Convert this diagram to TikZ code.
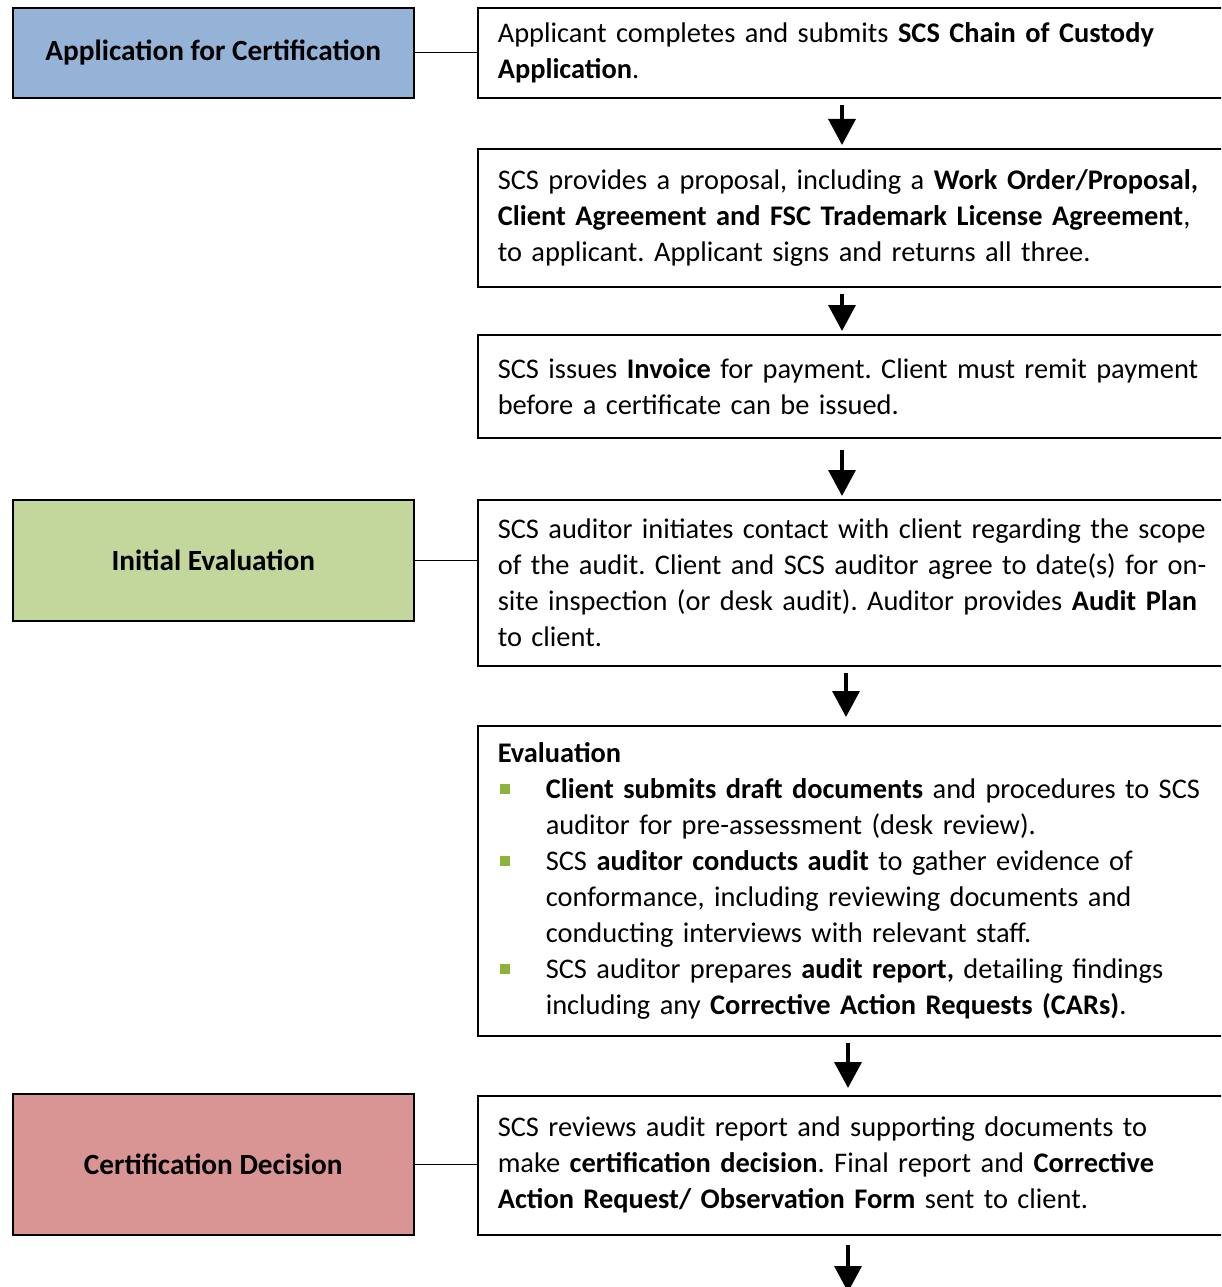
\documentclass[tikz,border=0pt]{standalone}
\usepackage{fontspec}
\setmainfont{Carlito}
\frenchspacing
\usetikzlibrary{arrows.meta}
\definecolor{appblue}{HTML}{95B3D7}
\definecolor{evalgreen}{HTML}{C3D69B}
\definecolor{decred}{HTML}{D99594}
\definecolor{bulgreen}{HTML}{8DB33A}
\newcommand{\bul}{\makebox[48pt][l]{\hspace{2pt}\textcolor{bulgreen}{\rule[4pt]{10pt}{10pt}}}}
\newcommand{\ind}{\hspace*{48pt}}
\tikzset{
  stage/.style={draw, line width=1.6pt, anchor=north west, minimum width=401pt,
    font=\fontsize{29.3}{36}\selectfont\bfseries, align=center},
  stepbox/.style={draw, line width=1.6pt, anchor=north west, text width=743pt,
    inner xsep=20pt, inner ysep=0pt, font=\fontsize{28.4}{36}\selectfont},
  flow/.style={line width=3.5pt, -{Triangle[width=27pt,length=26pt]},
    shorten <=6pt, shorten >=3pt},
  link/.style={line width=1.3pt}
}
\begin{document}
\begin{tikzpicture}[x=1pt,y=-1pt]
    \clip (0,0) rectangle (1221,1287);
    \useasboundingbox (0,0) rectangle (1221,1287);
    %% stages on the left
    \node[stage, fill=appblue, minimum height=90pt] (app) at (12,7) {Application for Certification};
    \node[stage, fill=evalgreen, minimum height=121pt] (init) at (12,499) {Initial Evaluation};
    \node[stage, fill=decred, minimum height=141pt] (dec) at (12,1093) {Certification Decision};
    %% steps on the right
    \node[stepbox, minimum height=90pt] (submit) at (477,7)
        {\noindent Applicant completes and submits \textbf{SCS Chain of Custody}\\
         \textbf{Application}.\\[4pt]};
    \node[stepbox, minimum height=138pt] (proposal) at (477,148)
        {\noindent SCS provides a proposal, including a \textbf{Work Order/Proposal,}\\
         \textbf{Client Agreement and FSC Trademark License Agreement},\\
         to applicant. Applicant signs and returns all three.};
    \node[stepbox, minimum height=103pt] (invoice) at (477,334)
        {\noindent SCS issues \textbf{Invoice} for payment. Client must remit payment\\
         before a certificate can be issued.\\[4pt]};
    \node[stepbox, minimum height=166pt] (contact) at (477,499)
        {\noindent SCS auditor initiates contact with client regarding the scope\\
         of the audit. Client and SCS auditor agree to date(s) for on-\\
         site inspection (or desk audit). Auditor provides \textbf{Audit Plan}\\
         to client.};
    \node[stepbox, minimum height=310pt] (evaluation) at (477,725)
        {\noindent\textbf{Evaluation}\\
         \bul\textbf{Client submits draft documents} and procedures to SCS\\
         \ind auditor for pre-assessment (desk review).\\
         \bul SCS \textbf{auditor conducts audit} to gather evidence of\\
         \ind conformance, including reviewing documents and\\
         \ind conducting interviews with relevant staff.\\
         \bul SCS auditor prepares \textbf{audit report,} detailing findings\\
         \ind including any \textbf{Corrective Action Requests (CARs)}.};
    \node[stepbox, minimum height=139pt] (review) at (477,1095)
        {\noindent SCS reviews audit report and supporting documents to\\
         make \textbf{certification decision}. Final report and \textbf{Corrective}\\
         \textbf{Action Request/ Observation Form} sent to client.};
    \coordinate (next) at (848,1292);
    %% links from stages to steps
    \draw[link] (app.east) -- (app.east -| submit.west);
    \draw[link] (init.east) -- (init.east -| contact.west);
    \draw[link] (dec.east) -- (dec.east -| review.west);
    %% flow arrows
    \draw[flow] ([xshift=365pt]submit.south west) -- ([xshift=365pt]proposal.north west);
    \draw[flow] ([xshift=365pt]proposal.south west) -- ([xshift=365pt]invoice.north west);
    \draw[flow, shorten <=11pt] ([xshift=365pt]invoice.south west) -- ([xshift=365pt]contact.north west);
    \draw[flow, shorten >=8pt] ([xshift=369pt]contact.south west) -- ([xshift=369pt]evaluation.north west);
    \draw[flow, shorten >=7pt] ([xshift=371pt]evaluation.south west) -- ([xshift=371pt]review.north west);
    \draw[flow, shorten <=9pt, shorten >=0pt] ([xshift=371pt]review.south west) -- (next);
\end{tikzpicture}
\end{document}
